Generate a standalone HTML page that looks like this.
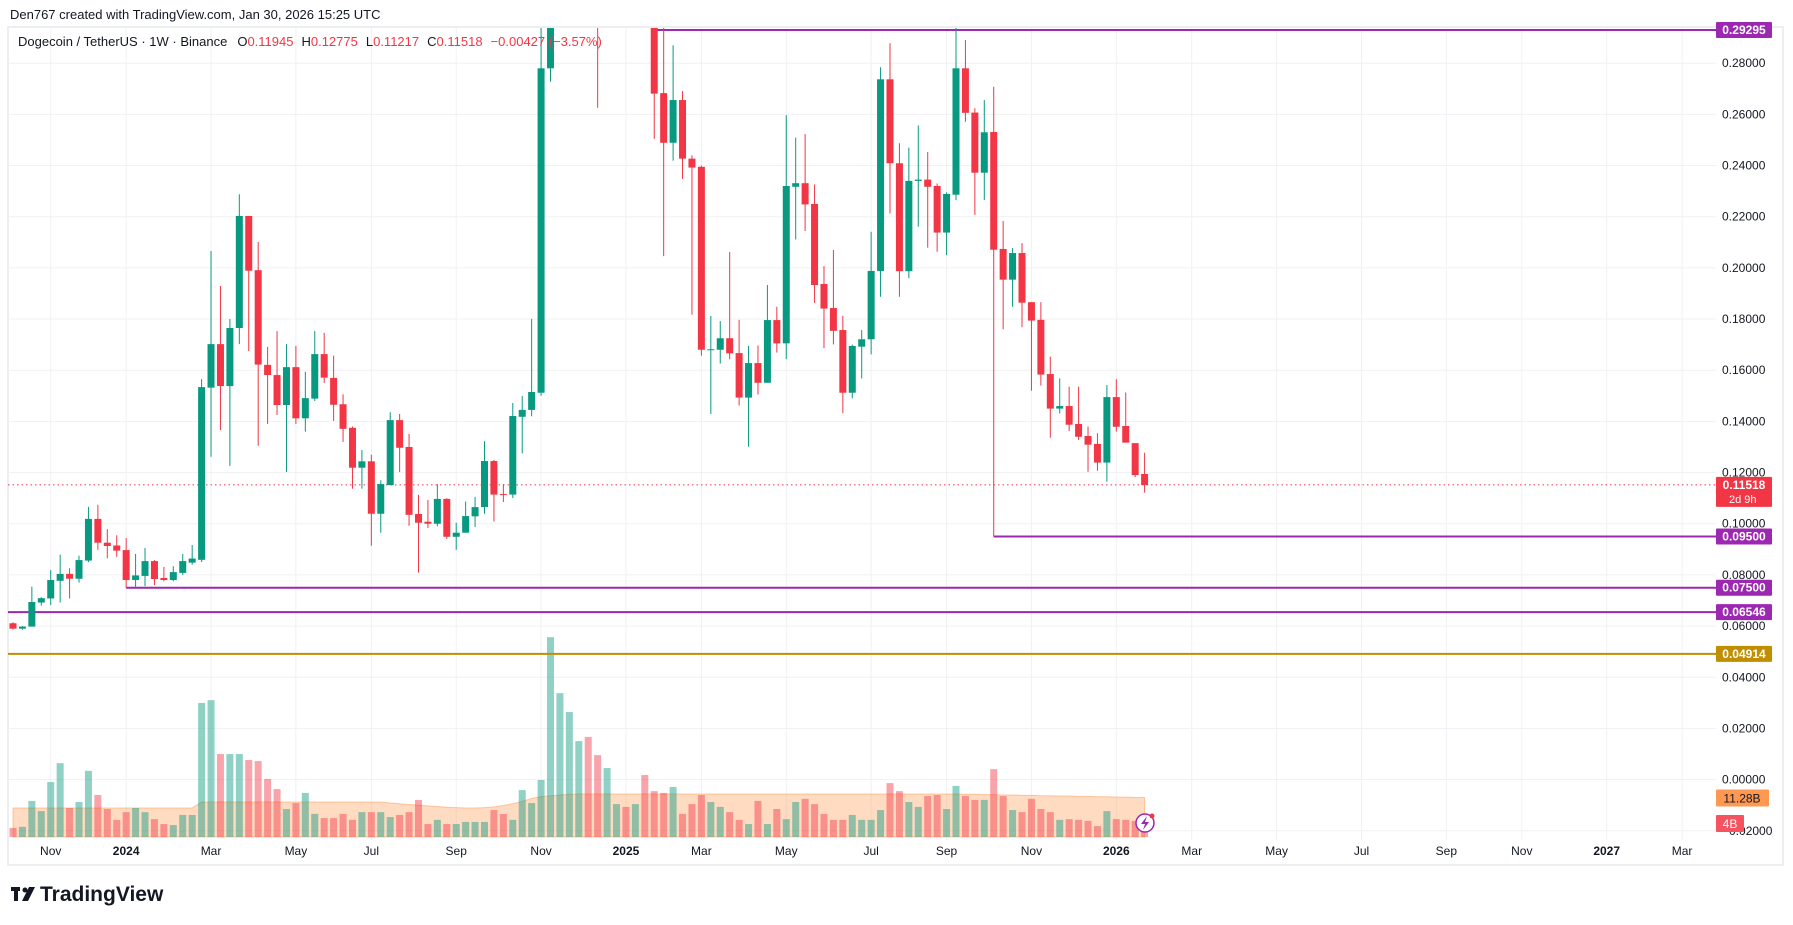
<!DOCTYPE html>
<html><head><meta charset="utf-8"><style>
html,body{margin:0;padding:0;background:#fff;}
svg{display:block;font-family:"Liberation Sans",sans-serif;}
</style></head><body>
<svg id="chart" width="1793" height="925" viewBox="0 0 1793 925" xmlns="http://www.w3.org/2000/svg">
<defs><clipPath id="plotClip"><rect x="8" y="28" width="1708" height="810"/></clipPath></defs>
<rect x="0" y="0" width="1793" height="925" fill="#fff"/>
<text x="10" y="19" font-size="13" fill="#131722">Den767 created with TradingView.com, Jan 30, 2026 15:25 UTC</text>
<rect x="8" y="27" width="1775" height="838" fill="none" stroke="#eceef2" stroke-width="2"/>
<g id="grid"></g>
<g id="volLayer" clip-path="url(#plotClip)"></g>
<g id="levels"></g>
<g id="candles" clip-path="url(#plotClip)"></g>
<g id="axisY"></g>
<g id="axisX"></g>
<g>
<text x="18" y="46" font-size="13" fill="#131722">Dogecoin / TetherUS · 1W · Binance<tspan dx="10">O</tspan><tspan fill="#f23645">0.11945</tspan><tspan dx="8">H</tspan><tspan fill="#f23645">0.12775</tspan><tspan dx="8">L</tspan><tspan fill="#f23645">0.11217</tspan><tspan dx="8">C</tspan><tspan fill="#f23645">0.11518</tspan><tspan dx="8" fill="#f23645">−0.00427 (−3.57%)</tspan></text>
</g>
<g>
<circle cx="1145" cy="823" r="9" fill="#fff" stroke="#9c27b0" stroke-width="1.5"/>
<path d="M1147 816 L1141 824 L1145 824 L1143 830 L1149 822 L1145 822 Z" fill="#9c27b0"/>
<circle cx="1152" cy="816" r="2.5" fill="#f23645"/>
</g>
<g>
<rect x="11" y="887" width="9" height="4" fill="#131722"/><rect x="14" y="887" width="4" height="14" fill="#131722"/>
<circle cx="25" cy="890" r="2.5" fill="#131722"/><path d="M29 887 L35 887 L28 901 L22 901 Z" fill="#131722"/>
<text x="40" y="901" font-size="21" font-weight="bold" fill="#131722">TradingView</text>
</g>
</svg>
<script>
const open  = [0.0611,0.0590,0.0598,0.0692,0.0708,0.0777,0.0804,0.0785,0.0856,0.1019,0.0926,0.0915,0.0897,0.0780,0.0796,0.0854,0.0788,0.0780,0.0808,0.0848,0.0859,0.1532,0.1702,0.1538,0.1765,0.2203,0.1991,0.1621,0.1581,0.1464,0.1612,0.1412,0.1489,0.1663,0.1570,0.1467,0.1375,0.1219,0.1244,0.1039,0.1151,0.1405,0.1300,0.1038,0.1008,0.1000,0.1097,0.0949,0.0965,0.1029,0.1065,0.1245,0.1116,0.1114,0.1418,0.1445,0.1512,0.2780,0.3800,0.3900,0.4300,0.4300,0.4000,0.3100,0.3200,0.3800,0.3400,0.3800,0.3300,0.2683,0.2489,0.2656,0.2427,0.2395,0.1680,0.1680,0.1725,0.1667,0.1493,0.1628,0.1551,0.1796,0.1705,0.2317,0.2331,0.2250,0.1937,0.1843,0.1757,0.1512,0.1692,0.1721,0.1988,0.2737,0.2409,0.1987,0.2340,0.2345,0.2320,0.2138,0.2286,0.2780,0.2607,0.2372,0.2531,0.2074,0.1954,0.2058,0.1866,0.1797,0.1585,0.1450,0.1460,0.1390,0.1343,0.1312,0.1239,0.1495,0.1382,0.1315,0.11945];
const high  = [0.0615,0.0600,0.0754,0.0713,0.0819,0.0879,0.0826,0.0875,0.1066,0.1074,0.0979,0.0955,0.0944,0.0882,0.0905,0.0858,0.0831,0.0834,0.0882,0.0917,0.1565,0.2066,0.1929,0.1800,0.2288,0.2203,0.2101,0.1691,0.1753,0.1702,0.1695,0.1594,0.1753,0.1746,0.1657,0.1506,0.1380,0.1288,0.1270,0.1170,0.1436,0.1429,0.1351,0.1113,0.1093,0.1155,0.1100,0.1004,0.1087,0.1105,0.1323,0.1250,0.1155,0.1472,0.1499,0.1801,0.3200,0.4200,0.4400,0.4500,0.4800,0.4700,0.4200,0.3400,0.3900,0.4000,0.4000,0.4200,0.3500,0.3000,0.2870,0.2691,0.2440,0.2400,0.1812,0.1792,0.2062,0.1797,0.1695,0.1697,0.1933,0.1848,0.2597,0.2509,0.2523,0.2326,0.2007,0.2070,0.1813,0.1700,0.1757,0.2141,0.2784,0.2878,0.2487,0.2470,0.2557,0.2453,0.2330,0.2295,0.2943,0.2891,0.2624,0.2656,0.2708,0.2183,0.2078,0.2097,0.1866,0.1866,0.1653,0.1568,0.1536,0.1536,0.1380,0.1354,0.1542,0.1565,0.1513,0.1315,0.12775];
const low   = [0.0586,0.0586,0.0598,0.0680,0.0682,0.0692,0.0708,0.0770,0.0850,0.0898,0.0865,0.0871,0.0749,0.0746,0.0756,0.0760,0.0775,0.0775,0.0800,0.0840,0.0850,0.1262,0.1366,0.1226,0.1702,0.1675,0.1305,0.1390,0.1425,0.1202,0.1390,0.1360,0.1480,0.1550,0.1402,0.1320,0.1137,0.1137,0.0914,0.0965,0.1151,0.1202,0.0992,0.0809,0.0983,0.0990,0.0941,0.0898,0.0965,0.0987,0.1039,0.1009,0.1085,0.1100,0.1275,0.1420,0.1500,0.2728,0.3500,0.3700,0.4000,0.3900,0.2626,0.3000,0.3100,0.3200,0.3300,0.3000,0.2504,0.2046,0.2419,0.2348,0.1817,0.1657,0.1429,0.1626,0.1643,0.1462,0.1301,0.1505,0.1551,0.1669,0.1643,0.2111,0.2144,0.1863,0.1686,0.1701,0.1432,0.1490,0.1568,0.1662,0.1887,0.2213,0.1887,0.1960,0.2161,0.2079,0.2063,0.2050,0.2265,0.2571,0.2207,0.2265,0.0950,0.1760,0.1848,0.1768,0.1520,0.1540,0.1336,0.1431,0.1362,0.1327,0.1203,0.1207,0.1164,0.1360,0.1317,0.1182,0.11217];
const close = [0.0590,0.0598,0.0694,0.0709,0.0780,0.0804,0.0785,0.0858,0.1019,0.0926,0.0913,0.0895,0.0780,0.0798,0.0854,0.0784,0.0780,0.0811,0.0854,0.0864,0.1534,0.1702,0.1538,0.1765,0.2203,0.1989,0.1622,0.1581,0.1464,0.1612,0.1412,0.1491,0.1663,0.1571,0.1465,0.1371,0.1219,0.1244,0.1039,0.1155,0.1405,0.1297,0.1035,0.1004,0.1000,0.1097,0.0949,0.0965,0.1030,0.1065,0.1245,0.1114,0.1114,0.1421,0.1445,0.1515,0.2780,0.3800,0.3900,0.4300,0.4300,0.4000,0.3100,0.3200,0.3800,0.3400,0.3800,0.3300,0.2681,0.2489,0.2656,0.2427,0.2392,0.1680,0.1682,0.1725,0.1666,0.1493,0.1628,0.1551,0.1796,0.1705,0.2320,0.2331,0.2248,0.1933,0.1841,0.1754,0.1512,0.1695,0.1721,0.1988,0.2737,0.2409,0.1987,0.2340,0.2345,0.2317,0.2138,0.2289,0.2780,0.2606,0.2372,0.2530,0.2071,0.1954,0.2058,0.1864,0.1794,0.1583,0.1450,0.1460,0.1387,0.1340,0.1309,0.1239,0.1495,0.1379,0.1317,0.1190,0.11518];
const volume = [2.6,2.9,10.3,7.4,15.7,21.1,8.3,10,18.9,12,8,4.9,7.1,8.3,7.1,5.1,3.7,3.4,6.3,6.3,38.3,39.1,23.7,23.7,23.7,22,21.7,16.6,13.7,8,9.7,12.6,6.6,5.4,5.4,6.6,4.9,7.1,7.1,7.1,5.7,6.3,7.1,10.6,3.7,4.9,3.7,3.7,4.3,4.3,4.3,7.7,6.6,4.9,13.4,9.7,16.3,57.1,41.1,35.7,27.4,28.6,23.4,19.7,9.4,8.6,9.4,17.7,13.1,12.6,14.3,6.6,9.4,12,10,8.6,7.1,4.9,3.7,10.3,3.7,8,5.1,10,10.9,9.4,6.6,4.9,4.9,6.3,4.9,4.9,7.7,15.4,13.1,10,8.6,11.7,12,8,14.6,11.7,10.6,10.6,19.4,11.7,7.7,7.1,10.9,8,7.1,4.9,5.1,4.9,4.6,3.1,7.4,5.1,4.9,4.6,4];
const volumeMA = [8.3,8.3,8.3,8.3,8.3,8.3,8.3,8.3,8.3,8.3,8.3,8.3,8.3,8.3,8.3,8.3,8.3,8.3,8.3,8.3,10,10,10,10,10,10,10,10,10,10,10,10,10,10,10,10,10,10,10,10,9.7,9.5,9.3,9.1,8.9,8.7,8.5,8.4,8.3,8.3,8.4,8.6,9.0,9.5,10.2,11.0,11.5,11.8,12.0,12.2,12.3,12.3,12.3,12.3,12.3,12.3,12.3,12.3,12.3,12.3,12.3,12.3,12.3,12.3,12.3,12.3,12.3,12.3,12.3,12.3,12.3,12.3,12.3,12.3,12.3,12.3,12.3,12.3,12.3,12.3,12.3,12.3,12.3,12.3,12.3,12.3,12.3,12.3,12.3,12.3,12.3,12.2,12.2,12.1,12.1,12.0,12.0,11.9,11.9,11.8,11.8,11.7,11.7,11.6,11.6,11.5,11.5,11.4,11.4,11.3,11.28];
const priceTicks = [0.28,0.26,0.24,0.22,0.20,0.18,0.16,0.14,0.12,0.10,0.08,0.06,0.04,0.02,0.00,-0.02];
const monthLabels = ["Nov","2024","Mar","May","Jul","Sep","Nov","2025","Mar","May","Jul","Sep","Nov","2026","Mar","May","Jul","Sep","Nov","2027","Mar"];
const monthWeekIndex = [4,12,21,30,38,47,56,65,73,82,91,99,108,117,125,134,143,152,160,169,177];
const levelPrices = [0.29295,0.095,0.075,0.06546,0.04914];
const levelStartIdx = [68,104,12,-1,-1];
const lastPrice = 0.11518;

const NS="http://www.w3.org/2000/svg";
const X0=13, DX=9.43, PLOT_L=8, PLOT_R=1716, VOL_BASE=837, VOL_K=3.5;
const xAt=i=>X0+DX*i;
const yP=p=>779.6-2558.6*p;
const yV=v=>VOL_BASE-v*VOL_K;
function mk(tag,attrs,parent){const e=document.createElementNS(NS,tag);for(const k in attrs)e.setAttribute(k,attrs[k]);parent.appendChild(e);return e;}
const grid=document.getElementById('grid'),vl=document.getElementById('volLayer'),cg=document.getElementById('candles'),ay=document.getElementById('axisY'),ax=document.getElementById('axisX'),lv=document.getElementById('levels');

priceTicks.forEach(p=>{
  const y=yP(p);
  const g=mk('line',{x1:PLOT_L,x2:PLOT_R,y1:y,y2:y,stroke:'#f0f1f4','stroke-width':1},grid);
  
  
  const t=mk('text',{x:1722,y:y+4,'font-size':12,fill:'#131722'},ay);
  t.textContent=(p<0?'−':'')+Math.abs(p).toFixed(5);
  
  
});
monthLabels.forEach((m,k)=>{
  const x=xAt(monthWeekIndex[k]);
  const g=mk('line',{x1:x,x2:x,y1:28,y2:840,stroke:'#f0f1f4','stroke-width':1},grid);
  
  
  const isYear=/^\d+$/.test(m);
  const t=mk('text',{x:x,y:855,'font-size':12,'text-anchor':'middle',fill:'#131722','font-weight':isYear?'bold':'normal'},ax);
  t.textContent=m;
  
  
});

let d='M'+xAt(0)+' '+VOL_BASE;
volumeMA.forEach((v,i)=>{d+=' L'+xAt(i)+' '+yV(v);});
d+=' L'+xAt(volumeMA.length-1)+' '+VOL_BASE+' Z';
const area=mk('path',{d:d,fill:'rgba(255,152,80,0.35)',stroke:'rgba(255,152,80,0.5)','stroke-width':1},vl);


volume.forEach((v,i)=>{
  const up=close[i]>=open[i];
  const r=mk('rect',{x:xAt(i)-3.5,y:yV(v),width:7,height:v*VOL_K,fill:up?'rgba(8,153,129,0.45)':'rgba(242,54,69,0.45)'},vl);
  
  
});

open.forEach((o,i)=>{
  const c=close[i],up=c>=o,col=up?'#089981':'#f23645',x=xAt(i);
  const w=mk('line',{x1:x,x2:x,y1:yP(high[i]),y2:yP(low[i]),stroke:col,'stroke-width':1},cg);
  
  
  const top=yP(Math.max(o,c)),bh=Math.max(1,Math.abs(yP(o)-yP(c)));
  const b=mk('rect',{x:x-3.5,y:top,width:7,height:bh,fill:col},cg);
  
  
});

const cp=mk('line',{x1:PLOT_L,x2:PLOT_R,y1:yP(lastPrice),y2:yP(lastPrice),stroke:'#f23645','stroke-width':1,'stroke-dasharray':'1.5 3'},lv);



levelPrices.forEach((p,k)=>{
  const col=k===4?'#bf8f00':'#9c27b0';
  const x1=levelStartIdx[k]<0?PLOT_L:xAt(levelStartIdx[k]);
  const l=mk('line',{x1:x1,x2:PLOT_R,y1:yP(p),y2:yP(p),stroke:col,'stroke-width':2},lv);
  
  
  const r=mk('rect',{x:1716,y:yP(p)-8,width:56,height:16,fill:col,rx:1},ay);
  
  
  const t=mk('text',{x:1744,y:yP(p)+4,'font-size':12,'font-weight':'bold','text-anchor':'middle',fill:'#fff'},ay);
  t.textContent=p.toFixed(5);
  
  
});

const ly=yP(lastPrice);
const lr=mk('rect',{x:1716,y:ly-8,width:56,height:30,fill:'#f23645',rx:1},ay);


const lt=mk('text',{x:1744,y:ly+4,'font-size':12,'font-weight':'bold','text-anchor':'middle',fill:'#fff'},ay);
lt.textContent=lastPrice.toFixed(5);


const lc=mk('text',{x:1729,y:ly+18,'font-size':11,fill:'#fff'},ay);
lc.textContent='2d 9h';



const maLast=volumeMA[volumeMA.length-1];
const mr=mk('rect',{x:1716,y:yV(maLast)-8,width:53,height:17,fill:'#ff9850',rx:1},ay);


const mt=mk('text',{x:1742,y:yV(maLast)+5,'font-size':12,'text-anchor':'middle',fill:'#131722'},ay);
mt.textContent=maLast.toFixed(2)+'B';


const vLast=volume[volume.length-1];
const vr=mk('rect',{x:1716,y:823-8,width:28,height:17,fill:'#f7525f',rx:1},ay);


const vt=mk('text',{x:1730,y:823+5,'font-size':12,'text-anchor':'middle',fill:'#fff'},ay);
vt.textContent=Math.round(vLast)+'B';


</script>
</body></html>
